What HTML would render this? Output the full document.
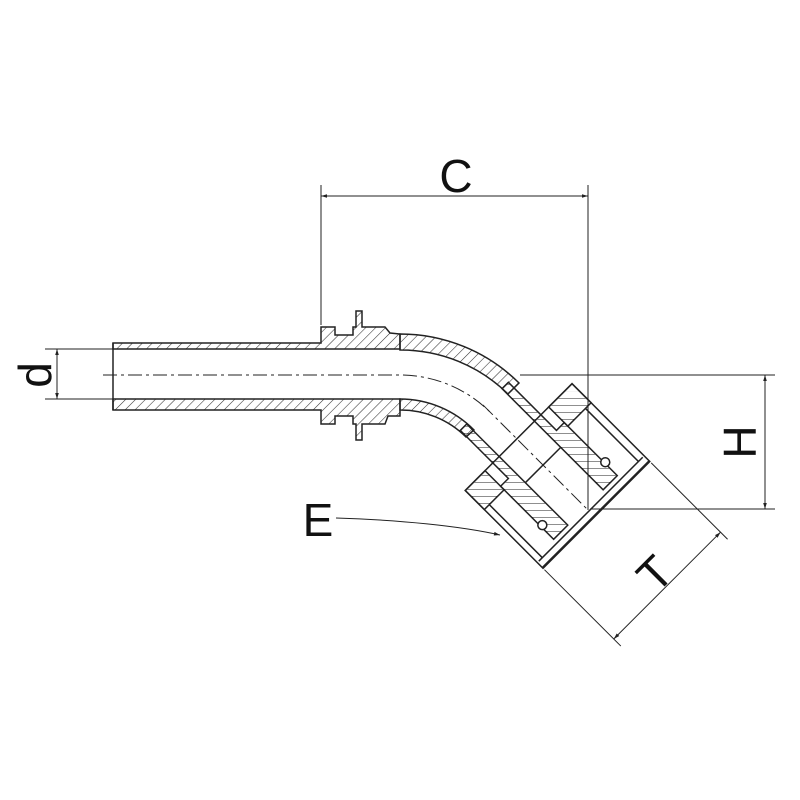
<!DOCTYPE html>
<html><head><style>html,body{margin:0;padding:0;background:#fff}svg{display:block}</style></head>
<body>
<svg width="800" height="800" viewBox="0 0 800 800" xmlns="http://www.w3.org/2000/svg" font-family="Liberation Sans, DejaVu Sans, sans-serif">
<defs>
<pattern id="h" patternUnits="userSpaceOnUse" width="7" height="7" patternTransform="rotate(45)">
<line x1="0" y1="0" x2="0" y2="7" stroke="#333" stroke-width="1.1"/>
</pattern>
<marker id="a" viewBox="0 0 10 10" refX="10" refY="5" markerWidth="8" markerHeight="6" orient="auto-start-reverse"><path d="M0,2 L10,5 L0,8z" fill="#222"/></marker>
</defs>
<g fill="none" stroke="#222" stroke-width="1.5">
<!-- straight tube walls -->
<path d="M113,343 L321,343 L321,327 L335,327 L335,335 L353,335 L353,327 L356,327 L356,311 L362,311 L362,327 L385,327 L390,333 L400,334 L400,349 L113,349 Z" fill="url(#h)"/>
<path d="M113,399 L400,399 L400,416 L388,416 L385,424 L362,424 L362,440 L356,440 L356,424 L353,424 L353,416 L335,416 L335,424 L321,424 L321,410 L113,410 Z" fill="url(#h)"/>
<line x1="113" y1="343" x2="113" y2="410"/>
<!-- bend walls -->
<path d="M400,334 A169,169 0 0 1 519,383 L508,394 A153,153 0 0 0 400,350 Z" fill="url(#h)"/>
<path d="M400,399 A104,104 0 0 1 474,430 L466,437 A93,93 0 0 0 400,410 Z" fill="url(#h)"/>
<!-- rotated fitting part -->
<g transform="translate(490,412) rotate(45)">
<rect x="38" y="-78" width="110" height="151" fill="#fff"/>
<path d="M-8,-34 L60,-34 L60,-45 L135,-45 L135,-25 L-8,-25 Z" fill="url(#h)"/>
<path d="M-8,34 L60,34 L60,45 L135,45 L135,25 L-8,25 Z" fill="url(#h)"/>
<path d="M38,-78 L65,-78 L65,-45 L38,-45 Z" fill="url(#h)"/>
<path d="M38,73 L65,73 L65,45 L38,45 Z" fill="url(#h)"/>
<line x1="65" y1="-70" x2="140" y2="-70"/>
<line x1="65" y1="66" x2="140" y2="66"/>
<line x1="140" y1="-76" x2="140" y2="71"/>
<line x1="147" y1="-78" x2="147" y2="73"/>
<line x1="75" y1="-25" x2="75" y2="25"/>
<circle cx="117" cy="-46" r="4.5" fill="#fff"/>
<circle cx="117" cy="43" r="4.5" fill="#fff"/>
<!-- T dimension -->
<g stroke-width="1">
<line x1="150" y1="-78" x2="258" y2="-78"/>
<line x1="150" y1="73" x2="258" y2="73"/>
<line x1="248" y1="-78" x2="248" y2="73" marker-start="url(#a)" marker-end="url(#a)"/>
</g>
<line x1="-10" y1="0" x2="140" y2="0" stroke-width="1" stroke-dasharray="14,4,3,4"/>
</g>
<!-- centerline straight + bend -->
<path d="M103,375 L400,375 A128,128 0 0 1 490,412" stroke-width="1" stroke-dasharray="14,4,3,4"/>
<g stroke-width="1">
<line x1="45" y1="349" x2="113" y2="349"/>
<line x1="45" y1="399" x2="113" y2="399"/>
<line x1="57" y1="349" x2="57" y2="399" marker-start="url(#a)" marker-end="url(#a)"/>
<line x1="321" y1="185" x2="321" y2="325"/>
<line x1="588" y1="185" x2="588" y2="510"/>
<line x1="321" y1="196" x2="588" y2="196" marker-start="url(#a)" marker-end="url(#a)"/>
<line x1="520" y1="375" x2="775" y2="375"/>
<line x1="590" y1="509" x2="775" y2="509"/>
<line x1="765" y1="375" x2="765" y2="509" marker-start="url(#a)" marker-end="url(#a)"/>
<path d="M336,518 C400,520 460,526 500,535" marker-end="url(#a)"/>
</g>
</g>
<g fill="#111" font-size="46">
<text x="456" y="192" text-anchor="middle">C</text>
<text x="318" y="536" text-anchor="middle">E</text>
<text transform="translate(51,375) rotate(-90)" text-anchor="middle">d</text>
<text transform="translate(756,442) rotate(-90)" text-anchor="middle">H</text>
<text transform="translate(666,585) rotate(-45)" text-anchor="middle">T</text>
</g>
</svg>
</body></html>
